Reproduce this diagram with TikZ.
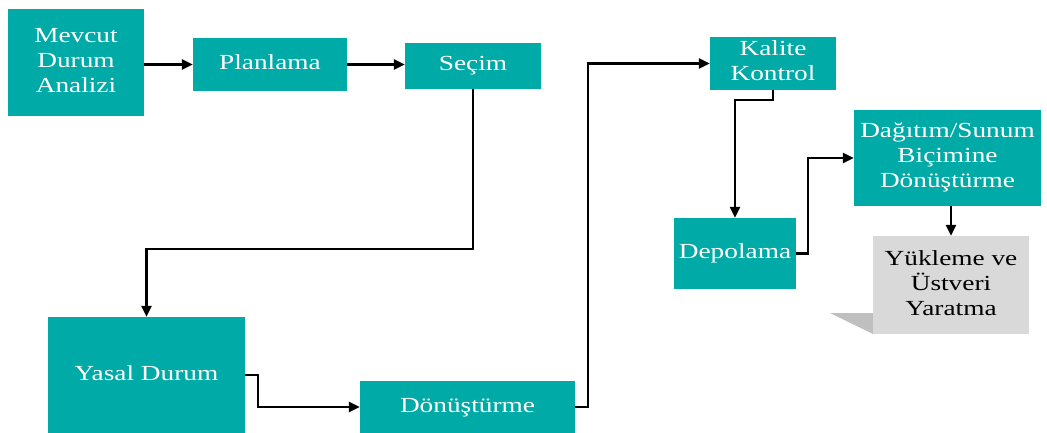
\documentclass[tikz,border=0pt]{standalone}
\usepackage{fontspec}
\usepackage{graphicx}
\setmainfont{Liberation Serif}
\usetikzlibrary{arrows.meta}
\definecolor{teal1}{HTML}{00AAA6}
\definecolor{greybox}{HTML}{D9D9D9}
\definecolor{greyshadow}{HTML}{BFBFBF}
\newcommand\sx[1]{\scalebox{1.27}[1]{\begin{tabular}{@{}c@{}}#1\end{tabular}}}
\tikzset{
  box/.style={fill=teal1, draw=none, text=white, inner sep=0pt, font=\fontsize{21.5}{25}\selectfont},
  gbox/.style={fill=greybox, draw=none, text=black, inner sep=0pt, font=\fontsize{21.5}{25}\selectfont},
  arr/.style={draw=black, line width=2.5pt, -{Triangle[length=11pt,width=10pt]}}
}
\begin{document}
\begin{tikzpicture}[x=1pt,y=-1pt]
\useasboundingbox (0,0) rectangle (1047,433);
% shadow of grey box
\fill[greyshadow] (830,313) -- (873,313) -- (873,334) -- cycle;
% boxes
\node[box, minimum width=136pt, minimum height=107pt] (mev) at (76,62.5) {\sx{Mevcut\\Durum\\Analizi}};
\node[box, minimum width=154pt, minimum height=53pt] (plan) at (270,64.5) {\sx{Planlama}};
\node[box, minimum width=136pt, minimum height=46pt] (sec) at (473,66) {\sx{Seçim}};
\node[box, minimum width=126pt, minimum height=53pt] (kal) at (773,63.5) {\sx{Kalite\\Kontrol}};
\node[box, minimum width=187pt, minimum height=96pt] (dag) at (947.5,158) {\sx{Dağıtım/Sunum\\Biçimine\\Dönüştürme}};
\node[box, minimum width=122pt, minimum height=71pt] (dep) at (735,253.5) {\sx{Depolama}};
\node[gbox, minimum width=156pt, minimum height=98pt] (yuk) at (951,285) {\sx{Yükleme ve\\Üstveri\\Yaratma}};
\node[box, minimum width=197pt, minimum height=116pt] (yas) at (146.5,375) {\sx{Yasal Durum}};
\node[box, minimum width=215pt, minimum height=52pt] (don) at (467.5,407) {\sx{Dönüştürme}};
% helper coordinate
\coordinate (c1) at (0,249);
% connectors
\draw[arr] (mev.east |- plan.west) -- (plan.west);
\draw[arr] (plan.east) -- (sec.west |- plan.east);
\draw[arr] (sec.south) -- (sec.south |- c1) -| (yas.north);
\draw[arr] (yas.east) -- ++(13,0) |- (don.west);
\draw[arr] (don.east) -- ++(13,0) |- (kal.west);
\draw[arr] (kal.south) -- ++(0,10) -| (dep.north);
\draw[arr] (dep.east) -- ++(12,0) |- (dag.west);
\draw[arr] (yuk.north |- dag.south) -- (yuk.north);
\end{tikzpicture}
\end{document}
